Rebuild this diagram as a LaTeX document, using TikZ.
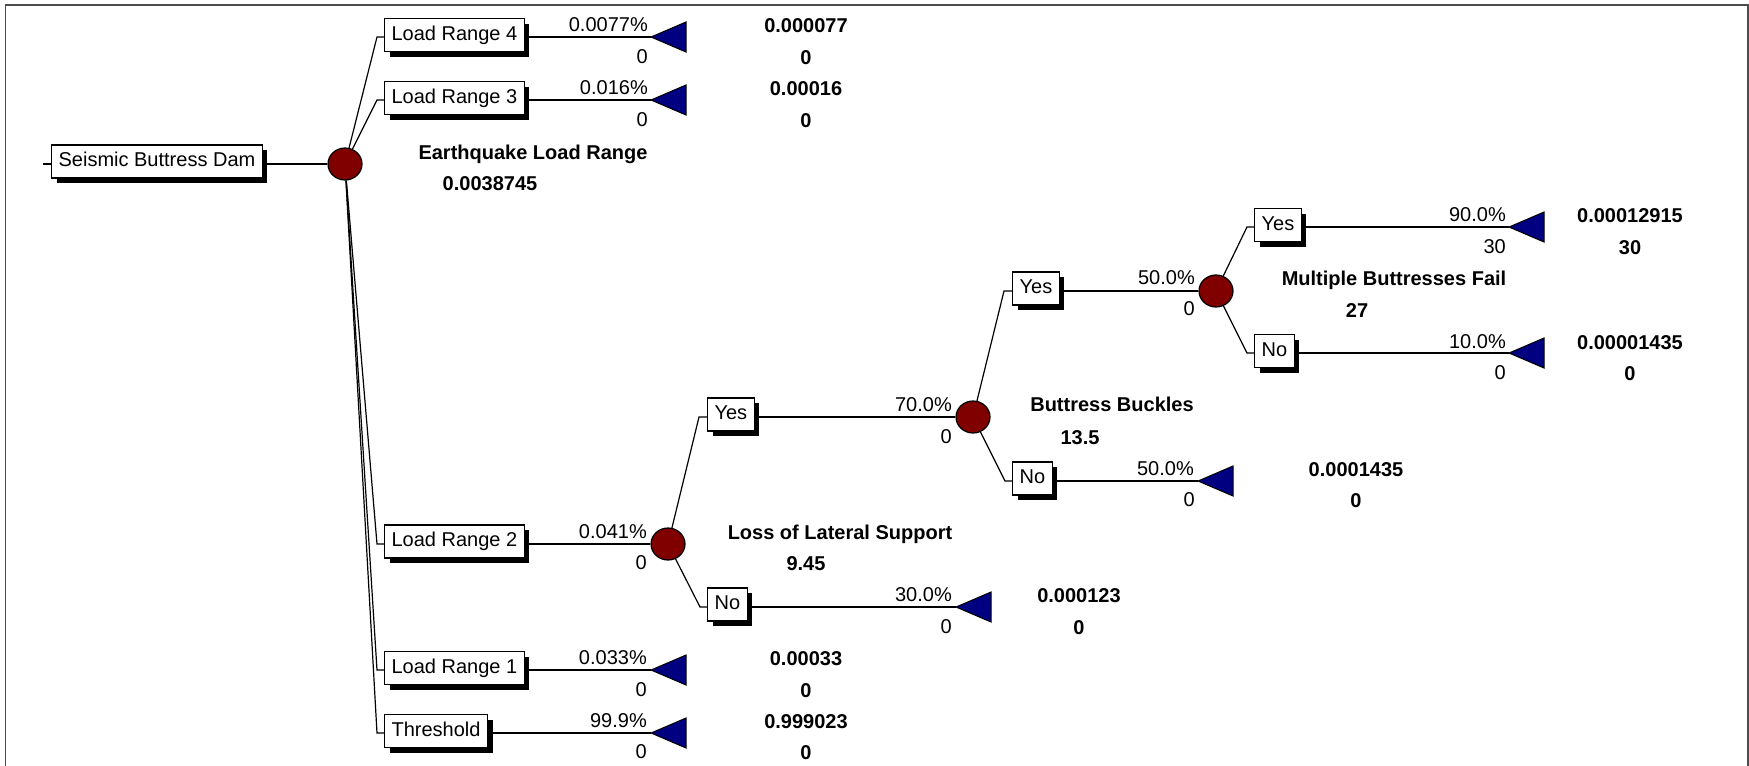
\documentclass[tikz,border=0pt]{standalone}
\usepackage{fontspec}
\setmainfont{Liberation Sans}
\usetikzlibrary{shapes.geometric,shadows}
\definecolor{ChanceRed}{HTML}{800000}
\definecolor{EndBlue}{HTML}{000080}

\begin{document}
\begin{tikzpicture}[x=1pt,y=-1pt]

\tikzset{BoxStyle/.style    = {draw, fill=white, line width=1.2pt, anchor=west,
                               inner xsep=7pt, inner ysep=7pt,
                               text height=14.5pt, text depth=4.5pt,
                               font=\fontsize{20}{24}\selectfont,
                               drop shadow={shadow xshift=5pt, shadow yshift=-5pt,
                                            opacity=1, fill=black}},
         ChanceStyle/.style = {ellipse, draw, line width=1.2pt, fill=ChanceRed,
                               minimum width=34pt, minimum height=32pt, inner sep=0pt},
         ProbStyle/.style   = {anchor=east, inner sep=0pt,
                               font=\fontsize{20}{24}\selectfont},
         ValueStyle/.style  = {inner sep=0pt, text height=14.3pt, text depth=0pt,
                               font=\fontsize{20}{24}\selectfont\bfseries},
         EndStyle/.style    = {draw, line width=1pt, fill=EndBlue, line join=miter},
         EdgeStyle/.style   = {line width=1.2pt}}

\useasboundingbox (0,0) rectangle (1749,766);
\draw[line width=1.5pt, black!70] (5.5,770) -- (5.5,5) -- (1748,5) -- (1748,770);

% root and first chance node
\node[BoxStyle] (root) at (51,161.5) {Seismic Buttress Dam};
\coordinate (rootTick) at (43,164);
\node[ChanceStyle] (quake) at (345,164) {};
\draw[EdgeStyle] (rootTick) -- (root.west |- rootTick);
\draw[EdgeStyle] (root.east |- quake) -- (quake);
\node[ValueStyle] (quakeName) at (533,152) {Earthquake Load Range};
\node[ValueStyle] (quakeValue) at (490,183) {0.0038745};

% load range branches
\coordinate (kLRfour)  at (377,37);
\coordinate (kLRthree) at (377,100);
\coordinate (kLRtwo)   at (377,544);
\coordinate (kLRone)   at (377,670);
\coordinate (kThr)     at (377,733);

\node[BoxStyle] (bLRfour)  at (384,35)  {Load Range 4};
\node[BoxStyle] (bLRthree) at (384,98)  {Load Range 3};
\node[BoxStyle] (bLRtwo)   at (384,541.5) {Load Range 2};
\node[BoxStyle] (bLRone)   at (384,668) {Load Range 1};
\node[BoxStyle] (bThr)     at (384,731) {Threshold};

\draw[EdgeStyle] (quake) -- (kLRfour) -- (bLRfour.west |- kLRfour);
\draw[EdgeStyle] (quake) -- (kLRthree) -- (bLRthree.west |- kLRthree);
\draw[EdgeStyle] (quake) -- (kLRtwo) -- (bLRtwo.west |- kLRtwo);
\draw[EdgeStyle] (quake) -- (kLRone) -- (bLRone.west |- kLRone);
\draw[EdgeStyle] (quake) -- (kThr) -- (bThr.west |- kThr);

\coordinate (tLRfour)  at (651,37);
\coordinate (tLRthree) at (651,100);
\coordinate (tLRone)   at (651,670);
\coordinate (tThr)     at (651,733);

\draw[EdgeStyle] (bLRfour.east |- kLRfour) -- (tLRfour);
\draw[EdgeStyle] (bLRthree.east |- kLRthree) -- (tLRthree);
\draw[EdgeStyle] (bLRone.east |- kLRone) -- (tLRone);
\draw[EdgeStyle] (bThr.east |- kThr) -- (tThr);

\draw[EndStyle] (tLRfour) -- ++(35,-15) -- ++(0,30) -- cycle;
\draw[EndStyle] (tLRthree) -- ++(35,-15) -- ++(0,30) -- cycle;
\draw[EndStyle] (tLRone) -- ++(35,-15) -- ++(0,30) -- cycle;
\draw[EndStyle] (tThr) -- ++(35,-15) -- ++(0,30) -- cycle;

\node[ProbStyle] (pLRfour)  at (648,25)  {0.0077\%};
\node[ProbStyle] (qLRfour)  at (648,57)  {0};
\node[ProbStyle] (pLRthree) at (648,88)  {0.016\%};
\node[ProbStyle] (qLRthree) at (648,120) {0};
\node[ProbStyle] (pLRtwo)   at (647,532) {0.041\%};
\node[ProbStyle] (qLRtwo)   at (647,563) {0};
\node[ProbStyle] (pLRone)   at (647,658) {0.033\%};
\node[ProbStyle] (qLRone)   at (647,690) {0};
\node[ProbStyle] (pThr)     at (647,721) {99.9\%};
\node[ProbStyle] (qThr)     at (647,752) {0};

\node[ValueStyle] (vLRfour)  at (806,25)  {0.000077};
\node[ValueStyle] (wLRfour)  at (806,57)  {0};
\node[ValueStyle] (vLRthree) at (806,88)  {0.00016};
\node[ValueStyle] (wLRthree) at (806,120) {0};
\node[ValueStyle] (vLRone)   at (806,658) {0.00033};
\node[ValueStyle] (wLRone)   at (806,690) {0};
\node[ValueStyle] (vThr)     at (806,721) {0.999023};
\node[ValueStyle] (wThr)     at (806,752) {0};

% loss of lateral support
\node[ChanceStyle] (lateral) at (668,544) {};
\draw[EdgeStyle] (bLRtwo.east |- kLRtwo) -- (lateral);
\node[ValueStyle] (lateralName)  at (840,532) {Loss of Lateral Support};
\node[ValueStyle] (lateralValue) at (806,563) {9.45};

\coordinate (kLatYes) at (699,417);
\coordinate (kLatNo)  at (700,607);
\node[BoxStyle] (bLatYes) at (707,414.5) {Yes};
\node[BoxStyle] (bLatNo)  at (707,604.5) {No};
\draw[EdgeStyle] (lateral) -- (kLatYes) -- (bLatYes.west |- kLatYes);
\draw[EdgeStyle] (lateral) -- (kLatNo) -- (bLatNo.west |- kLatNo);

\coordinate (tLatNo) at (956,607);
\draw[EdgeStyle] (bLatNo.east |- kLatNo) -- (tLatNo);
\draw[EndStyle] (tLatNo) -- ++(35,-15) -- ++(0,30) -- cycle;

\node[ProbStyle] (pLatYes) at (952,405) {70.0\%};
\node[ProbStyle] (qLatYes) at (952,437) {0};
\node[ProbStyle] (pLatNo)  at (952,595) {30.0\%};
\node[ProbStyle] (qLatNo)  at (952,627) {0};
\node[ValueStyle] (vLatNo) at (1079,595) {0.000123};
\node[ValueStyle] (wLatNo) at (1079,627) {0};

% buttress buckles
\node[ChanceStyle] (buckle) at (973,417) {};
\draw[EdgeStyle] (bLatYes.east |- kLatYes) -- (buckle);
\node[ValueStyle] (buckleName)  at (1112,404) {Buttress Buckles};
\node[ValueStyle] (buckleValue) at (1080,437) {13.5};

\coordinate (kBucYes) at (1004,291);
\coordinate (kBucNo)  at (1005,481);
\node[BoxStyle] (bBucYes) at (1012,288.5) {Yes};
\node[BoxStyle] (bBucNo)  at (1012,478.5) {No};
\draw[EdgeStyle] (buckle) -- (kBucYes) -- (bBucYes.west |- kBucYes);
\draw[EdgeStyle] (buckle) -- (kBucNo) -- (bBucNo.west |- kBucNo);

\coordinate (tBucNo) at (1198,481);
\draw[EdgeStyle] (bBucNo.east |- kBucNo) -- (tBucNo);
\draw[EndStyle] (tBucNo) -- ++(35,-15) -- ++(0,30) -- cycle;

\node[ProbStyle] (pBucYes) at (1195,278) {50.0\%};
\node[ProbStyle] (qBucYes) at (1195,309) {0};
\node[ProbStyle] (pBucNo)  at (1194,469) {50.0\%};
\node[ProbStyle] (qBucNo)  at (1195,500) {0};
\node[ValueStyle] (vBucNo) at (1356,469) {0.0001435};
\node[ValueStyle] (wBucNo) at (1356,500) {0};

% multiple buttresses fail
\node[ChanceStyle] (multi) at (1216,291) {};
\draw[EdgeStyle] (bBucYes.east |- kBucYes) -- (multi);
\node[ValueStyle] (multiName)  at (1394,278) {Multiple Buttresses Fail};
\node[ValueStyle] (multiValue) at (1357,310) {27};

\coordinate (kMulYes) at (1247,227);
\coordinate (kMulNo)  at (1247,353);
\node[BoxStyle] (bMulYes) at (1254,225) {Yes};
\node[BoxStyle] (bMulNo)  at (1254,351) {No};
\draw[EdgeStyle] (multi) -- (kMulYes) -- (bMulYes.west |- kMulYes);
\draw[EdgeStyle] (multi) -- (kMulNo) -- (bMulNo.west |- kMulNo);

\coordinate (tMulYes) at (1509,227);
\coordinate (tMulNo)  at (1509,353);
\draw[EdgeStyle] (bMulYes.east |- kMulYes) -- (tMulYes);
\draw[EdgeStyle] (bMulNo.east |- kMulNo) -- (tMulNo);
\draw[EndStyle] (tMulYes) -- ++(35,-15) -- ++(0,30) -- cycle;
\draw[EndStyle] (tMulNo) -- ++(35,-15) -- ++(0,30) -- cycle;

\node[ProbStyle] (pMulYes) at (1506,215) {90.0\%};
\node[ProbStyle] (qMulYes) at (1506,247) {30};
\node[ProbStyle] (pMulNo)  at (1506,342) {10.0\%};
\node[ProbStyle] (qMulNo)  at (1506,373) {0};
\node[ValueStyle] (vMulYes) at (1630,215) {0.00012915};
\node[ValueStyle] (wMulYes) at (1630,247) {30};
\node[ValueStyle] (vMulNo)  at (1630,342) {0.00001435};
\node[ValueStyle] (wMulNo)  at (1630,373) {0};

\end{tikzpicture}
\end{document}
